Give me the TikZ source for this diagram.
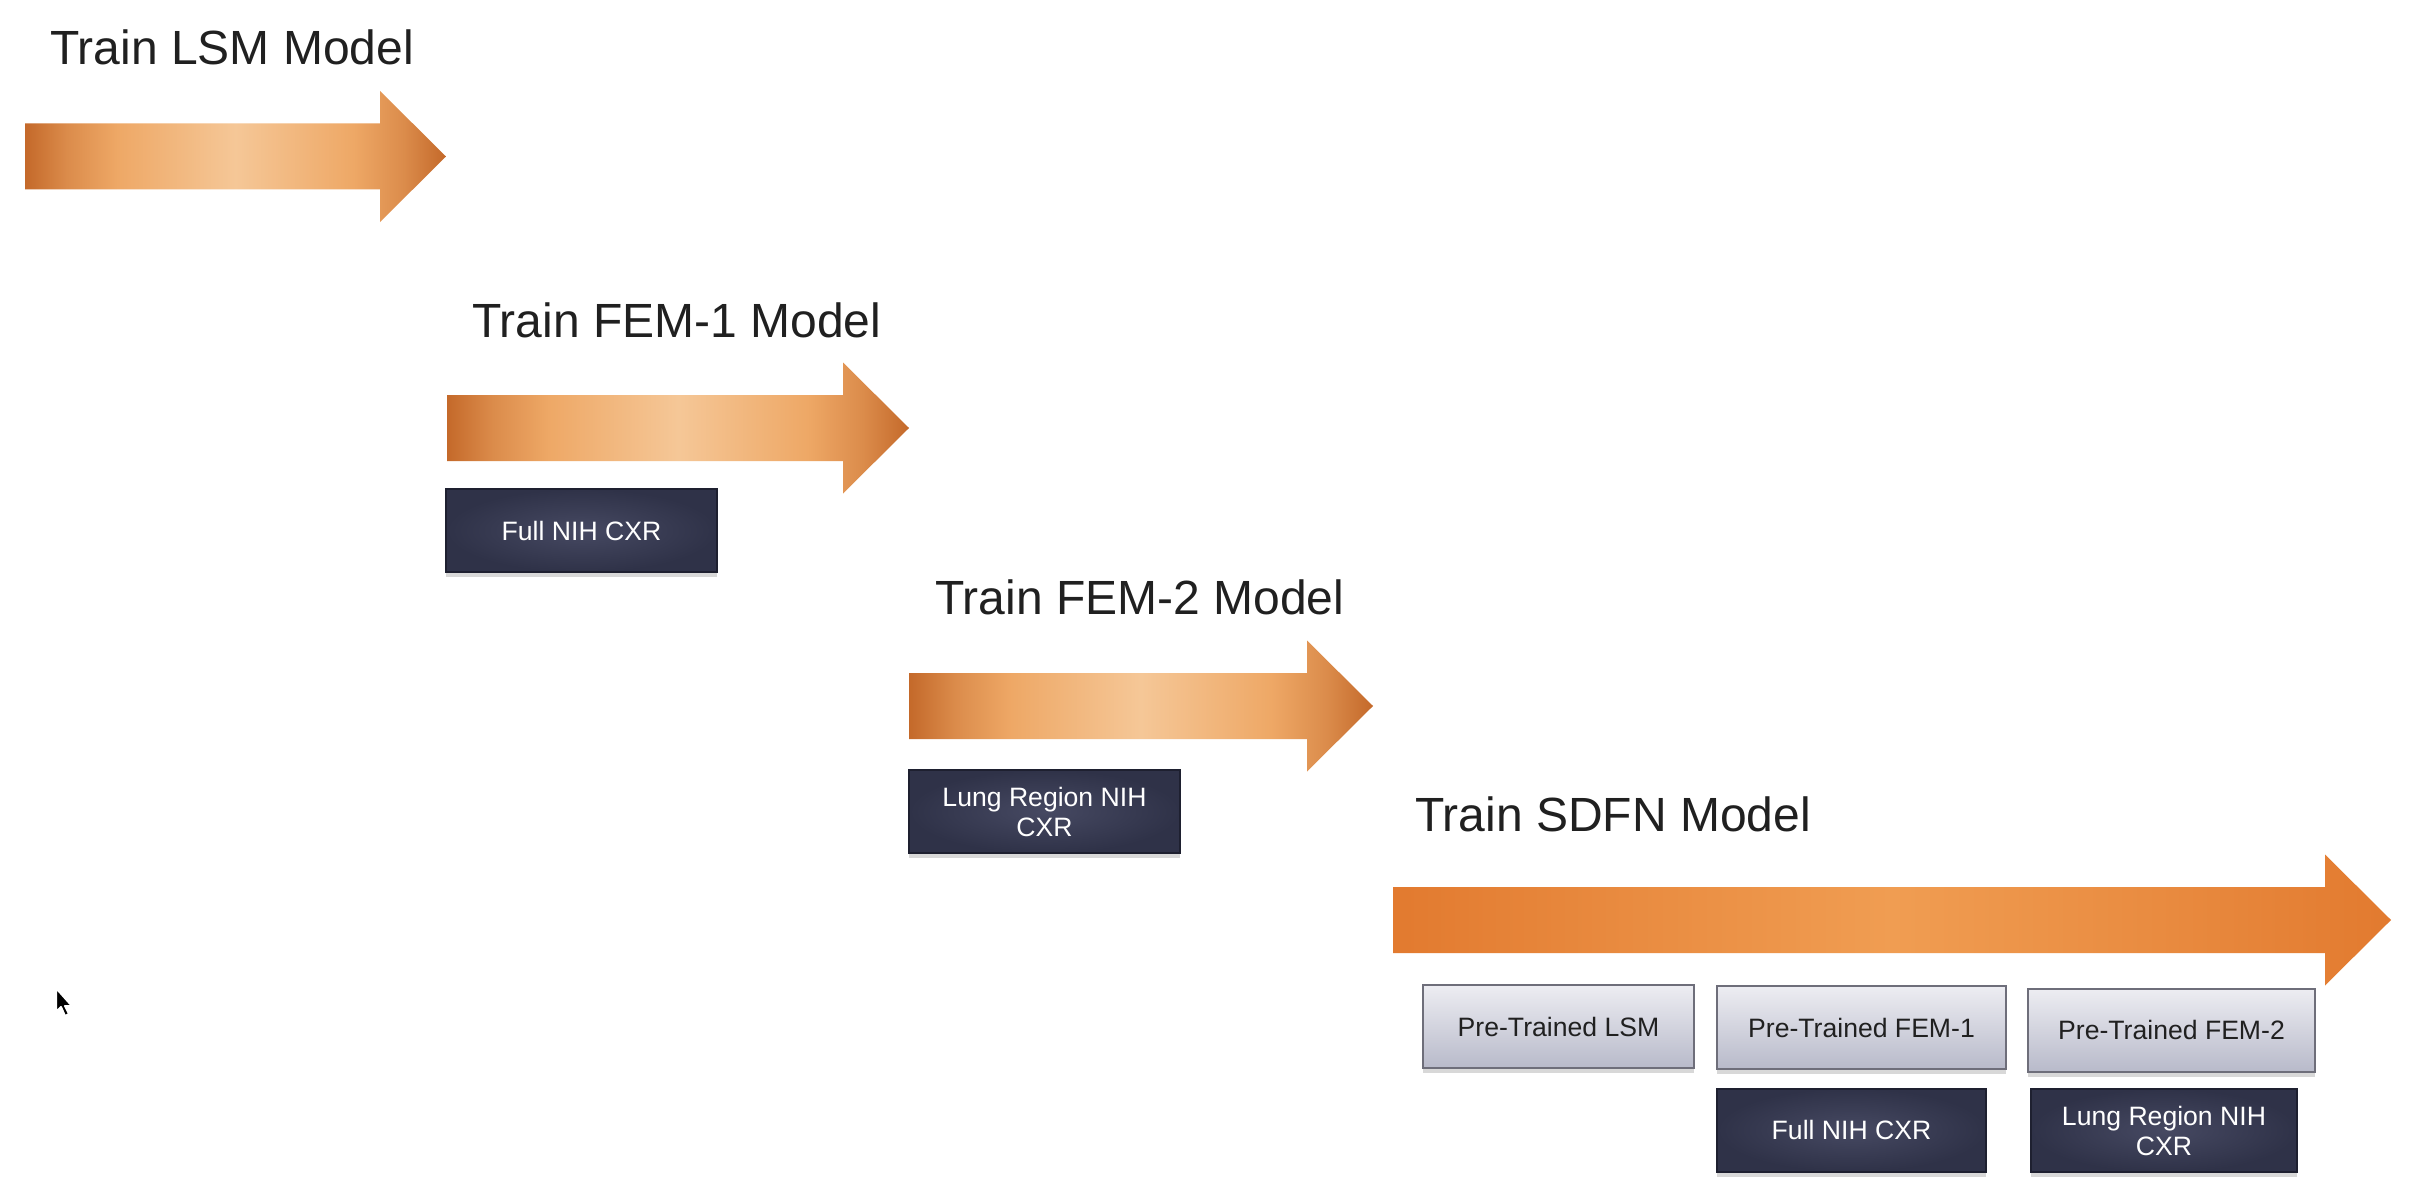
\documentclass[tikz,border=0pt]{standalone}
\usepackage{fontspec}
\setmainfont{Liberation Sans}
\usetikzlibrary{shadows}
\definecolor{cudark}{HTML}{C4692A}
\definecolor{cumid}{HTML}{EEA866}
\definecolor{culight}{HTML}{F5C797}
\definecolor{ordark}{HTML}{E27A2F}
\definecolor{orlight}{HTML}{F09D52}
\definecolor{slateout}{HTML}{2F3248}
\definecolor{slatein}{HTML}{464962}
\definecolor{slateline}{HTML}{1E2030}
\definecolor{mistup}{HTML}{EDEDF2}
\definecolor{mistdown}{HTML}{B8BACA}
\definecolor{mistline}{HTML}{6E6E7A}
\definecolor{inkgray}{HTML}{202020}
\pgfdeclarehorizontalshading{copper}{100bp}{color(0bp)=(cudark); color(25bp)=(cudark);
 color(30bp)=(cudark!45!cumid); color(36bp)=(cumid); color(43bp)=(cumid!50!culight); color(50bp)=(culight);
 color(57bp)=(cumid!50!culight); color(64bp)=(cumid); color(70bp)=(cudark!45!cumid); color(75bp)=(cudark);
 color(100bp)=(cudark)}
\pgfdeclarehorizontalshading{tangerine}{100bp}{color(0bp)=(ordark); color(25bp)=(ordark);
 color(37bp)=(ordark!50!orlight); color(50bp)=(orlight); color(63bp)=(ordark!50!orlight); color(75bp)=(ordark);
 color(100bp)=(ordark)}
\newcommand{\flow}[4]{\shade[shading=#4] (#1,{#3-33}) -- ({#2-66},{#3-33}) -- ({#2-66},{#3-65.5})
 -- (#2,#3) -- ({#2-66},{#3+65.5}) -- ({#2-66},{#3+33}) -- (#1,{#3+33}) -- cycle}
\tikzset{
 title/.style = {anchor=base west, inner sep=0pt, text=inkgray, font=\fontsize{24}{29}\selectfont},
 darkbox/.style = {draw=slateline, line width=1pt, inner color=slatein, outer color=slateout,
  text=white, align=center, font=\fontsize{13.3}{15}\selectfont,
  minimum width=135.5pt, minimum height=41.5pt, inner sep=0pt,
  drop shadow={shadow xshift=0pt, shadow yshift=-2.5pt, opacity=0.3}},
 lightbox/.style = {draw=mistline, line width=1pt, top color=mistup, bottom color=mistdown,
  text=inkgray, align=center, font=\fontsize{13.3}{15}\selectfont,
  minimum width=135.5pt, minimum height=41.5pt, inner sep=0pt,
  drop shadow={shadow xshift=0pt, shadow yshift=-2.5pt, opacity=0.3}}
}

\begin{document}
\begin{tikzpicture}[x=0.5pt, y=-0.5pt]
	\fill[white] (0,0) rectangle (2432,1204);
	\useasboundingbox (0,0) rectangle (2432,1204);
%Arrows
	\flow{25}{446}{156.5}{copper};
	\flow{447}{909}{428}{copper};
	\flow{909}{1373}{706}{copper};
	\flow{1393}{2391}{920}{tangerine};
%Titles
	\node[title] (lsmtitle) at (50,65) {Train LSM Model};
	\node[title] (femonetitle) at (472,337) {Train FEM-1 Model};
	\node[title] (femtwotitle) at (935,614) {Train FEM-2 Model};
	\node[title] (sdfntitle) at (1415,831) {Train SDFN Model};
%Data of each stage
	\node[darkbox] (fullone) at (581.5,530.5) {Full NIH CXR};
	\node[darkbox] (lungone) at (1044.5,811.5) {Lung Region NIH\\CXR};
%The fusion stage
	\node[lightbox] (prelsm) at (1558.5,1026.5) {Pre-Trained LSM};
	\node[lightbox, minimum width=144.5pt] (prefemone) at (1861.5,1027.5) {Pre-Trained FEM-1};
	\node[lightbox, minimum width=143.5pt] (prefemtwo) at (2171.5,1030) {Pre-Trained FEM-2};
	\node[darkbox, minimum width=134.5pt] (fulltwo) at (1851.5,1130) {Full NIH CXR};
	\node[darkbox, minimum width=133pt] (lungtwo) at (2164,1130.5) {Lung Region NIH\\CXR};
%Pointer
	\filldraw[black, draw=white, line width=1pt, line join=round] (56,988) -- ++(0,24) -- ++(5,-5)
	 -- ++(4,9) -- ++(4,-2) -- ++(-4,-8) -- ++(7,0) -- cycle;
\end{tikzpicture}
\end{document}
